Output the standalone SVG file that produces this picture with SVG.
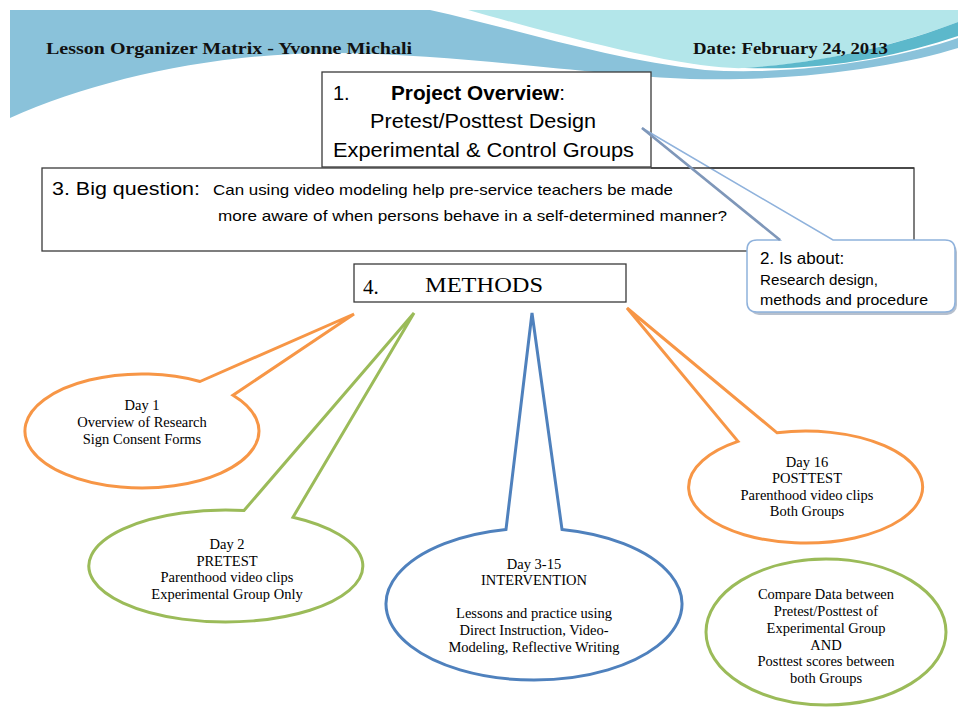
<svg xmlns="http://www.w3.org/2000/svg" width="958" height="711" viewBox="0 0 958 711">
<style>
.box{fill:#fff;stroke:#3a3a3a;stroke-width:1.3}
.sans{font-family:"Liberation Sans",Arial,sans-serif;fill:#000}
.serif{font-family:"Liberation Serif","Times New Roman",serif;fill:#000}
.hdr{font-family:"Liberation Serif","Times New Roman",serif;font-weight:bold;font-size:16px;fill:#111}
.ell{fill:#fff;stroke-width:3;stroke-linejoin:miter}
.orange{stroke:#f79646}
.green{stroke:#9bbb59}
.blue{stroke:#4f81bd}
.et{font-family:"Liberation Serif","Times New Roman",serif;font-size:14.5px;fill:#000;text-anchor:middle}
</style>
<rect width="958" height="711" fill="#fff"/>
<g id="background">
<path d="M10,10 L430,10 C 520,30 610,60 705,70 C 800,76 900,58 958,38 L958,48 C 900,66 800,82 690,79 C 600,76 470,55 340,53 C 220,52 100,78 10,118 Z" fill="#8ac2da"/>
<path d="M468,10 L958,10 L958,22 C 900,44 820,64 745,68 C 700,70 610,50 468,10 Z" fill="#b3e6ea"/>
<path d="M958,22 C 900,44 830,62 745,68 C 830,71 900,55 958,36 Z" fill="#5cb8cb"/>
<text class="hdr" x="46" y="54" textLength="366" lengthAdjust="spacingAndGlyphs">Lesson Organizer Matrix - Yvonne Michali</text>
<text class="hdr" x="693" y="54" textLength="195" lengthAdjust="spacingAndGlyphs">Date: February 24, 2013</text>
</g>
<g id="node1">
<rect class="box" x="322" y="72" width="329" height="95"/>
<text class="sans" x="333" y="100" font-size="20">1.</text>
<text class="sans" x="391" y="100" font-size="20" textLength="174" lengthAdjust="spacingAndGlyphs"><tspan font-weight="bold">Project Overview</tspan>:</text>
<text class="sans" x="370" y="128" font-size="20" textLength="226" lengthAdjust="spacingAndGlyphs">Pretest/Posttest Design</text>
<text class="sans" x="333" y="157" font-size="20" textLength="301" lengthAdjust="spacingAndGlyphs">Experimental &amp; Control Groups</text>
</g>
<g id="node3">
<rect class="box" x="42" y="168" width="872" height="83"/>
<text class="sans" x="52" y="195" font-size="19" textLength="148" lengthAdjust="spacingAndGlyphs">3. Big question:</text>
<text class="sans" x="213" y="195" font-size="15" textLength="460" lengthAdjust="spacingAndGlyphs">Can using video modeling help pre-service teachers be made</text>
<text class="sans" x="218" y="221" font-size="15" textLength="509" lengthAdjust="spacingAndGlyphs">more aware of when persons behave in a self-determined manner?</text>
</g>
<g id="node2">
<rect x="749" y="242" width="208" height="73" rx="10" fill="#8596ae" opacity="0.6"/>
<path d="M757,240 H780 L642,128 L833,240 H945 Q955,240 955,250 V302 Q955,312 945,312 H757 Q747,312 747,302 V250 Q747,240 757,240 Z" fill="#fff" stroke="#8fb2dc" stroke-width="1.5"/>
<line x1="651" y1="168" x2="914" y2="168" stroke="#3a3a3a" stroke-width="1.3"/>
<line x1="642" y1="128" x2="780" y2="240" stroke="#7f97b9" stroke-width="2.6"/>
<text class="sans" x="760" y="264" font-size="17">2. Is about:</text>
<text class="sans" x="760" y="285" font-size="14" textLength="118" lengthAdjust="spacingAndGlyphs">Research design,</text>
<text class="sans" x="760" y="305" font-size="14" textLength="168" lengthAdjust="spacingAndGlyphs">methods and procedure</text>
</g>
<g id="node4">
<rect class="box" x="354" y="264" width="272" height="38"/>
<text class="serif" x="363" y="294" font-size="21">4.</text>
<text class="serif" x="425" y="292" font-size="21" textLength="118" lengthAdjust="spacingAndGlyphs">METHODS</text>
</g>
<g id="connectors">
</g>
<g id="day1">
<path class="ell orange" d="M200,381.5 L354,314 L233,395.2 A117,57 0 1 1 200,381.5 Z"/>
<text class="et" x="142" y="410">Day 1</text>
<text class="et" x="142" y="427">Overview of Research</text>
<text class="et" x="142" y="444">Sign Consent Forms</text>
</g>
<g id="day2">
<path class="ell green" d="M244,510.5 L414,313 L293,517.2 A137,56 0 1 1 244,510.5 Z"/>
<text class="et" x="227" y="549">Day 2</text>
<text class="et" x="227" y="566">PRETEST</text>
<text class="et" x="227" y="582">Parenthood video clips</text>
<text class="et" x="227" y="599">Experimental Group Only</text>
</g>
<g id="day3">
<path class="ell blue" d="M506,529.4 L532,313 L562,529.4 A148,76 0 1 1 506,529.4 Z"/>
<text class="et" x="534" y="569">Day 3-15</text>
<text class="et" x="534" y="585">INTERVENTION</text>
<text class="et" x="534" y="618">Lessons and practice using</text>
<text class="et" x="534" y="635">Direct Instruction, Video-</text>
<text class="et" x="534" y="652">Modeling, Reflective Writing</text>
</g>
<g id="day16">
<path class="ell orange" d="M738,441.4 L627,308 L777,432.8 A117,56 0 1 1 738,441.4 Z"/>
<text class="et" x="807" y="467">Day 16</text>
<text class="et" x="807" y="483">POSTTEST</text>
<text class="et" x="807" y="500">Parenthood video clips</text>
<text class="et" x="807" y="516">Both Groups</text>
</g>
<g id="compare">
<ellipse class="ell green" cx="826" cy="632" rx="120" ry="73"/>
<text class="et" x="826" y="599">Compare Data between</text>
<text class="et" x="826" y="616">Pretest/Posttest of</text>
<text class="et" x="826" y="633">Experimental Group</text>
<text class="et" x="826" y="650">AND</text>
<text class="et" x="826" y="666">Posttest scores between</text>
<text class="et" x="826" y="683">both Groups</text>
</g>
</svg>
